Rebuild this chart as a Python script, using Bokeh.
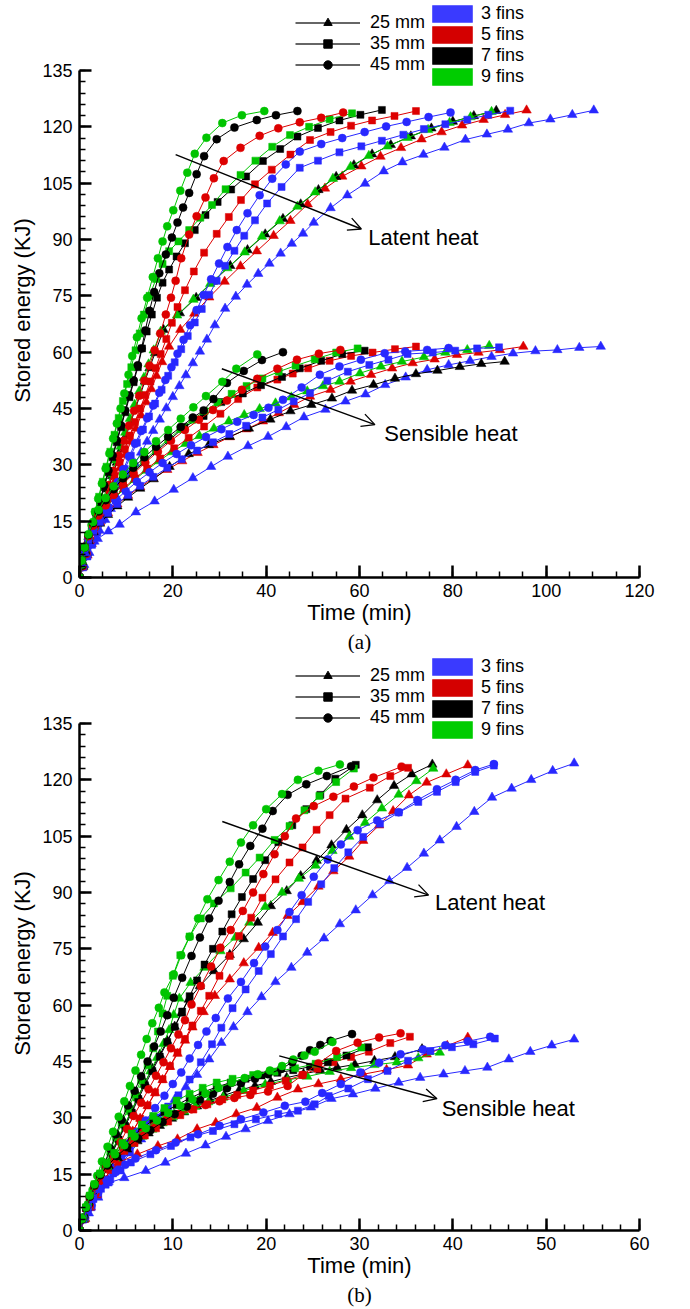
import sys
from bokeh.plotting import figure
from bokeh.models import (Range1d, FixedTicker, LinearAxis, Legend, LegendItem,
                          Arrow, OpenHead, Label, ColumnDataSource, Title)
from bokeh.layouts import column
from bokeh.embed import file_html
from bokeh.resources import INLINE

# ---------------- DATA : panel (a) latent heat ----------------
A_LAT_B_TRI_T = [0,1.0,2.1,3.2,4.3,5.5,6.7,8.0,9.3,10.6,11.9,13.2,14.5,15.8,17.2,18.6,20.0,21.4,22.8,24.3,25.8,27.3,29.0,31.2,33.5,35.9,38.3,40.7,43.1,45.5,47.9,50.2,53.8,57.4,61.2,65.2,69.2,73.7,78.2,82.7,87.3,91.8,96.3,100.9,105.6,110.2]
A_LAT_B_TRI_E = [0,3.4,6.6,9.6,12.5,15.4,18.3,21.3,24.3,27.3,30.3,33.3,36.2,39.1,42.1,45.1,48.1,51,53.9,57.1,60.2,63.4,67.2,71.6,74.8,78,80.9,83.6,86.3,88.9,91.6,94.5,98.4,101.8,104.9,108.2,110.6,112.6,114.5,116.6,118,119.3,121,122,123.2,124.4]
A_LAT_B_SQ_T = [0,0.8,1.7,2.7,3.8,4.9,6.0,7.2,8.4,9.7,11.0,12.3,13.6,14.9,16.2,17.6,19.0,20.4,21.8,23.2,24.7,26.2,27.8,29.4,31.2,33.2,35.3,37.6,40.2,43.3,47.2,51.1,55.7,60.4,64.8,69.4,73.8,78.4,83.1,87.6,92.3]
A_LAT_B_SQ_E = [0,2.7,5.6,8.7,12,15.3,18.6,22,25.4,28.9,32.4,35.9,39.4,42.9,46.3,50,53.7,57.3,60.8,64.3,67.9,71.5,75.3,79,83,87,91,95.1,99.6,104,109.1,111,113.2,114.8,116.3,117.9,119.4,120.7,121.9,123.2,124.3]
A_LAT_B_CIR_T = [0,0.8,1.7,2.7,3.7,4.8,5.9,7.0,8.2,9.4,10.6,11.9,13.2,14.5,15.8,17.1,18.4,19.7,21.0,22.3,23.7,25.1,26.6,28.2,29.9,31.7,33.7,36.0,38.6,41.3,44.2,47.2,51.8,56.3,61.1,65.7,70.1,74.8,79.5]
A_LAT_B_CIR_E = [0,2.8,5.8,9,12.2,15.5,18.8,22,25.4,28.8,32.2,35.6,39,42.4,45.8,49.2,52.6,56,59.6,63.3,67.2,71.2,75.2,79.4,83.6,88,92.5,97,101.8,106.2,110,113.4,115.4,117,118.6,120.1,121.3,122.6,123.8]
A_LAT_R_TRI_T = [0,0.8,1.7,2.6,3.6,4.6,5.6,6.6,7.7,8.8,9.9,11.0,12.1,13.2,14.3,15.4,16.5,17.7,19.2,21.6,24.6,27.8,31.1,34.5,38.0,41.6,45.2,48.9,52.6,56.3,60.4,64.5,68.9,73.3,77.6,82.0,86.6,91.2,95.8]
A_LAT_R_TRI_E = [0,2.8,5.9,9,12.3,15.6,18.9,22.2,25.7,29.2,32.7,36.2,39.7,43.2,46.7,50.2,53.7,57.4,61.5,66,70.3,74.6,78.8,82.9,86.9,91,95,99.4,103.6,106.8,109.5,112.1,114.4,116.7,118.6,120.4,121.9,123.2,124.4]
A_LAT_R_SQ_T = [0,0.7,1.5,2.4,3.3,4.3,5.3,6.4,7.5,8.6,9.7,10.8,11.9,13.0,14.1,15.2,16.3,17.4,18.6,19.8,21.0,22.6,24.5,26.7,29.4,32.0,34.6,37.6,41.2,45.2,49.4,53.8,58.2,62.7,67.5,72.1]
A_LAT_R_SQ_E = [0,2.9,6,9.4,12.8,16.3,19.8,23.4,27,30.6,34.2,37.8,41.4,45,48.6,52.2,55.8,59.5,63.5,67.8,72,76.5,81.5,86.5,91.5,96,100.5,104.7,108.6,112.6,116.5,118.6,120.3,121.7,122.9,124.2]
A_LAT_R_CIR_T = [0,0.7,1.5,2.4,3.3,4.3,5.3,6.3,7.3,8.4,9.5,10.6,11.7,12.8,13.9,15.0,16.1,17.3,18.5,19.6,20.6,21.8,23.5,25.1,27.0,28.8,30.9,34.5,38.6,42.6,47.2,51.8,56.5]
A_LAT_R_CIR_E = [0,3,6.3,9.8,13.3,17,20.8,24.6,28.4,32.4,36.4,40.4,44.4,48.4,52.4,56.4,60.5,65,70,74.5,79,85,91.3,96.2,101.2,106.3,110.9,114.4,117.6,119.6,121.2,122.4,123.8]
A_LAT_K_TRI_T = [0,0.8,1.6,2.5,3.4,4.3,5.2,6.1,7.0,8.0,9.0,10.0,11.0,12.0,13.0,14.0,15.0,16.2,18.0,21.5,25.0,28.6,32.3,36.0,39.8,43.6,47.4,51.2,55.0,58.8,62.7,66.7,71.0,75.4,80.0,84.5,89.3]
A_LAT_K_TRI_E = [0,3,6.5,9.9,13.3,16.7,20.1,23.5,27,30.6,34.2,37.8,41.4,45,48.6,52.2,55.8,59.8,66,70.4,74.5,78.8,83,87.2,91.4,95.5,99.4,103.2,106.7,109.8,112.7,115.2,117.5,119.6,121.4,122.9,124.3]
A_LAT_K_SQ_T = [0,0.6,1.3,2.0,2.8,3.6,4.4,5.3,6.2,7.1,8.0,8.9,9.8,10.7,11.6,12.5,13.4,14.4,15.5,16.6,17.8,19.2,20.8,22.6,24.7,27.0,29.6,32.5,35.7,39.3,43.0,46.7,51.1,55.7,60.2,64.8]
A_LAT_K_SQ_E = [0,3.2,6.4,9.7,13,16.5,20,24,28,32,36,40,44,48,52,56,61,65.5,70,74.5,78.5,82,85.5,89,92.5,96.5,100,103.3,106.8,110.9,114.1,117.4,119.7,121.7,123.2,124.5]
A_LAT_K_CIR_T = [0,0.6,1.3,2.0,2.8,3.6,4.4,5.3,6.2,7.1,8.0,8.9,9.8,10.7,11.6,12.5,13.3,14.1,15.0,16.0,17.1,18.5,19.8,21.0,22.2,23.5,25.1,26.7,29.4,33.2,38.0,42.1,46.7]
A_LAT_K_CIR_E = [0,3.2,6.5,10,13.5,17,20.5,24.5,28.5,32.5,36.5,40.5,44.5,48.5,52.5,56.5,61,65.8,71,76,81,86,90.5,94.5,98.5,102.4,107.4,112.2,116.7,119.8,121.8,123.1,124.2]
A_LAT_G_TRI_T = [0,0.7,1.5,2.3,3.2,4.1,5.0,5.9,6.8,7.8,8.8,9.8,10.8,11.8,12.8,13.8,14.8,15.9,17.4,20.9,24.4,28.0,31.7,35.4,39.1,42.9,46.7,50.5,54.3,58.1,62.0,66.0,70.3,74.7,79.3,83.8,88.3]
A_LAT_G_TRI_E = [0,3,6.5,10,13.5,17,20.5,24,27.5,31.2,34.9,38.6,42.3,46,49.6,53.2,56.8,60.5,65.5,69.8,74,78.2,82.4,86.6,90.8,94.9,98.8,102.6,106.2,109.4,112.3,114.8,117.1,119.2,121.1,122.6,124.0]
A_LAT_G_SQ_T = [0,0.6,1.2,1.9,2.6,3.4,4.2,5.0,5.8,6.6,7.5,8.4,9.3,10.2,11.1,12.0,12.9,13.8,15.0,16.4,17.8,19.2,21.2,23.5,25.9,28.4,31.3,34.5,37.7,41.3,45.1,49.2,53.6,58.4]
A_LAT_G_SQ_E = [0,3.3,6.6,10,13.5,17.5,21.5,25.5,29.5,33.5,38,42.5,47,51.5,56,60.5,65,70,75,79.5,83.5,86.9,89.5,92.5,95.8,99.2,103.4,107.2,111,114.7,117.8,120,122,123.6]
A_LAT_G_CIR_T = [0,0.6,1.2,1.9,2.6,3.3,4.0,4.8,5.6,6.4,7.2,8.0,8.8,9.6,10.5,11.3,12.3,13.3,14.5,15.7,16.8,17.8,18.8,20.1,21.6,23.1,24.7,27.2,30.6,34.8,39.6]
A_LAT_G_CIR_E = [0,3.5,7,10.5,14,17.5,21,25,29,33,37,41,45,49,54,59,64,69,74.5,80,85,89.5,93.5,97.8,103,107.8,112.8,117.1,121,123.1,124.2]

# ---------------- DATA : panel (a) sensible heat ----------------
A_SEN_B_TRI_T = [0,0.5,1.2,2.3,3.9,6.2,8.6,12.1,16.1,20.2,24.3,28.2,31.8,36.1,40.4,44.3,48.1,52.7,57,61.3,65.5,69.9,74.5,79.1,83.7,88.3,92.9,97.7,102.4,107.1,111.7]
A_SEN_B_TRI_E = [0,3.8,6.5,8.6,10.3,12.3,14.1,17.4,20.3,23.4,26.5,29.5,32.2,35,37.5,40.1,42.7,44.7,46.9,48.8,51.3,53.3,55.3,56.6,57.7,58.8,59.7,60.3,60.6,61.2,61.5]
A_SEN_B_SQ_T = [0,0.5,1.1,1.9,3.0,4.4,6.1,8.1,10.4,13,15.8,18.8,21.9,25.2,28.6,32.1,35.7,39.2,42.6,45.9,49.4,53.1,57.5,62.1,66.2,70.3,75.7,80.5,85.2,89.9]
A_SEN_B_SQ_E = [0,4.2,7.4,10,12.4,14.8,17.2,19.6,22,24.4,26.8,29.2,31.5,33.8,36,38.2,40.4,42.6,44.7,46.9,49.1,52.4,54.8,56.6,58,59.5,59.9,60.4,61,61.3]
A_SEN_B_CIR_T = [0,0.5,1.1,1.9,2.9,4.2,5.8,7.7,9.9,12.3,15,17.8,20.8,23.9,27.1,30.4,33.8,37.3,40.5,43.6,47.6,51.5,55.7,60.3,65.4,69.8,74.5,79.1]
A_SEN_B_CIR_E = [0,4.3,7.6,10.4,13,15.5,18,20.5,23,25.5,28,30.5,32.9,35.2,37.4,39.5,41.5,43.3,45.2,47.3,50.6,54,56.2,58,59.7,60.2,60.6,61.1]
A_SEN_R_TRI_T = [0,0.5,1.1,1.9,3.0,4.4,6.1,8.1,10.4,13.0,15.8,18.8,22.0,25.3,28.7,32.2,35.8,39.3,42.7,46.0,49.4,53.8,58.1,62.5,67.0,71.4,76.1,80.9,85.5,90.1,95.1]
A_SEN_R_TRI_E = [0,4.2,7.4,10,12.4,14.8,17.2,19.5,21.8,24.1,26.4,28.7,31,33.2,35.3,37.4,39.5,41.6,43.8,46,48.2,50,52.2,54,55.7,57.1,58.1,59.3,59.9,60.6,61.5]
A_SEN_R_SQ_T = [0,0.5,1.1,1.9,2.9,4.1,5.6,7.4,9.5,11.9,14.5,17.3,20.3,23.4,26.7,30.2,34.0,38.1,42.4,45.7,49.0,53.6,58.2,62.8,67.6,72.1]
A_SEN_R_SQ_E = [0,4.5,8,10.8,13.5,16,18.6,21.2,23.8,26.4,29,31.7,34.4,37.2,40.2,43.6,47.5,50.6,52.7,54.3,55.7,57.7,59,59.9,60.8,61.5]
A_SEN_R_CIR_T = [0,0.5,1.1,1.9,2.9,4.1,5.6,7.3,9.3,11.6,14.1,16.8,19.6,22.6,25.6,28.6,31.6,34.8,38.1,42.4,46.6,51.3,55.9]
A_SEN_R_CIR_E = [0,4.5,8,11,13.8,16.5,19.2,22,24.8,27.7,30.6,33.5,36.4,39.3,42,44.6,47.1,50,52.9,55.6,58,59.6,60.6]
A_SEN_K_TRI_T = [0,0.5,1.1,1.9,3.0,4.4,6.1,8.1,10.4,13.0,15.9,19.3,23.4,27.7,32.2,36.3,40.9,45.2,49.7,54.1,58.4,63.0,67.6,72.1,76.7,81.5,86.1,91.1]
A_SEN_K_TRI_E = [0,4.2,7.3,9.8,12.1,14.4,16.7,19,21.3,23.7,26.2,29.5,32.9,35.3,37.5,39.7,42.1,44.3,46,47.7,49.8,51.3,53,54.2,55.1,56.1,56.9,57.5]
A_SEN_K_SQ_T = [0,0.5,1.1,1.9,2.9,4.1,5.6,7.3,9.3,11.5,13.9,16.5,19.3,22.5,26.6,30.4,35.0,38.9,43.4,47.2,51.8,56.3,61.1]
A_SEN_K_SQ_E = [0,4.5,8,11,14,16.9,19.7,22.4,25.2,28,30.8,33.7,36.6,40.1,43,46.7,49,51.2,53.4,55.7,57.7,59.5,60.4]
A_SEN_K_CIR_T = [0,0.5,1.1,1.9,2.9,4.1,5.6,7.3,9.3,11.5,13.9,16.4,19.0,21.7,24.3,26.6,28.7,31.6,35.2,39.1,43.6]
A_SEN_K_CIR_E = [0,4.5,8,11.3,14.5,17.6,20.6,23.5,26.4,29.2,32,34.8,37.5,40.1,42.6,44.5,47.5,51.8,55,57.9,60]
A_SEN_G_TRI_T = [0,0.5,1.1,1.9,2.9,4.1,5.6,7.4,9.5,11.8,14.3,17.0,19.8,22.7,25.7,28.8,32.0,35.3,38.6,42.0,45.4,48.8,52.2,55.7,60.1,64.6,69.1,73.8,78.4,83.1,87.8]
A_SEN_G_TRI_E = [0,4.4,7.8,10.8,13.5,16,18.5,21,23.5,26,28.5,31,33.4,35.6,37.7,39.7,41.6,43.3,44.9,46.4,48,49.6,51,52.2,54.4,56.2,57.5,58.7,59.9,60.6,61.7]
A_SEN_G_SQ_T = [0,0.5,1.1,1.9,2.9,4.1,5.6,7.3,9.3,11.5,13.9,16.4,19.0,21.6,24.2,26.8,29.6,32.6,35.8,39.2,42.7,46.3,50.4,55.0,59.6]
A_SEN_G_SQ_E = [0,4.5,8,11.2,14.2,17.2,20,22.8,25.6,28.4,31.2,34,36.8,39.5,42,44.3,46.6,48.9,51,53,54.8,56.4,58.1,59.9,61.0]
A_SEN_G_CIR_T = [0,0.5,1.1,1.9,2.9,4.1,5.6,7.3,9.3,11.5,13.9,16.4,19.0,21.7,24.4,27.1,30.6,33.6,38.1]
A_SEN_G_CIR_E = [0,4.5,8,11.5,14.8,18,21.2,24.3,27.4,30.5,33.4,36.3,39.3,42.3,45.3,48.3,52.1,55.6,59.4]

# ---------------- DATA : panel (b) latent heat ----------------
B_LAT_B_TRI_T = [0,1.0,2.0,3.1,4.2,5.4,6.6,7.8,9.0,10.2,11.4,12.6,13.9,15.2,16.5,18.0,19.5,21.0,22.7,24.4,26.2,27.9,29.6,31.4,33.2,35.1,36.9,38.6,40.4,42.3,44.2,46.3,48.4,50.7,53.0]
B_LAT_B_TRI_E = [0,4.6,8.8,12.9,16.8,20.6,24.3,28,31.5,34.9,38.2,41.5,45.6,50,54.2,58.2,62.2,66.2,70,74,77.8,81.6,85.3,89.3,93.1,96.6,100.4,103.9,107.5,111.5,115.3,117.7,120,122.4,124.4]
B_LAT_B_SQ_T = [0,0.6,1.3,2.0,2.8,3.6,4.5,5.4,6.4,7.4,8.4,9.5,10.6,11.8,13.0,14.2,15.2,16.4,17.8,19.2,20.5,21.8,23.2,24.5,25.9,27.3,28.8,30.4,32.2,34.2,36.3,38.3,40.3,42.4,44.4]
B_LAT_B_SQ_E = [0,3.1,6.2,9.2,12.2,15.2,18.3,21.4,24.5,27.3,30.1,33,36,40.2,44.8,49.6,54,59.2,64.2,69.1,73.6,78.3,82.9,87.5,92.2,96.5,100.7,104.8,108.3,111.3,114.1,116.8,119.4,122.1,123.8]
B_LAT_B_CIR_T = [0,0.6,1.3,2.0,2.8,3.6,4.5,5.3,6.2,7.1,8.1,9.1,10.0,10.9,11.8,12.7,13.6,14.6,15.9,17.3,18.7,19.9,21.2,22.5,23.8,25.1,26.6,28.0,29.8,31.9,34.2,36.2,38.3,40.3,42.4,44.4]
B_LAT_B_CIR_E = [0,3.3,6.7,10,13.4,16.7,20,23.2,26.3,29.3,32.6,35.9,39,42.1,45.8,49.4,53,56.6,61.8,66.2,71.2,75.6,80,84.8,89.3,94.2,98.8,102.8,106.6,109.2,111.4,114.6,117.5,120,122.6,124.2]
B_LAT_R_TRI_T = [0,0.6,1.2,1.9,2.6,3.3,4.1,4.9,5.7,6.5,7.3,8.1,8.9,9.7,10.5,11.3,12.1,13.3,14.5,16.1,17.6,19.2,20.7,22.3,23.9,25.6,27.2,28.9,30.4,32.1,33.6,35.3,37.2,39.3,41.6]
B_LAT_R_TRI_E = [0,3.1,6.3,9.6,12.9,16.2,19.6,23,26.4,29.8,33.2,36.6,40.1,43.6,47.1,50.6,54.1,58.2,62.5,66.9,71.2,75.3,79.3,83.8,87.5,91.6,95.7,99.6,103.8,107.9,111.7,115.9,119.3,121.5,123.9]
B_LAT_R_SQ_T = [0,0.6,1.2,1.9,2.6,3.3,4.1,4.9,5.7,6.5,7.3,8.1,8.9,9.7,10.5,11.3,12.1,13.0,13.9,15.0,16.1,17.1,18.4,19.6,21.0,22.5,23.9,25.4,26.8,28.5,31.1,33.3,35.2]
B_LAT_R_SQ_E = [0,3.1,6.3,9.6,12.9,16.2,19.6,23,26.4,29.8,33.3,36.8,40.3,43.8,47.4,51,54.6,58.5,62.5,67.8,73.1,78.4,83.3,88.6,93.5,98,102,106.7,110.6,115,117.9,121,123.2]
B_LAT_R_CIR_T = [0,0.5,1.1,1.7,2.3,3.0,3.7,4.4,5.1,5.8,6.6,7.4,8.2,9.0,9.8,10.6,11.3,12.0,13.0,14.1,15.1,16.2,17.5,18.6,19.7,20.9,22.0,23.2,25.1,27.2,29.4,31.5,34.5]
B_LAT_R_CIR_E = [0,3.2,6.5,9.8,13.2,16.6,20,23.5,27,30.5,34,37.6,41.2,44.8,48.5,52.2,56,60.2,65.1,70.3,75.3,80,85.1,90,94.9,100.2,105,109.7,113,115.5,118.2,120.6,123.5]
B_LAT_K_TRI_T = [0,0.5,1.0,1.6,2.2,2.8,3.5,4.2,4.9,5.6,6.3,7.0,7.8,8.6,9.4,10.2,10.9,11.7,12.9,14.4,16.1,17.6,19.1,20.5,22.2,23.7,25.4,27.0,28.6,30.3,31.9,33.7,35.6,37.8]
B_LAT_K_TRI_E = [0,3.4,6.8,10.3,13.8,17.4,21,24.6,28.3,32,35.7,39.4,43.1,46.8,50.5,54.3,57.8,61.5,65.1,69.1,73.4,77.6,82,86.4,90.4,94.4,98.5,102.6,106.7,110.6,114.6,118.4,121.5,124.1]
B_LAT_K_SQ_T = [0,0.5,1.0,1.6,2.2,2.8,3.5,4.2,4.9,5.6,6.3,7.0,7.8,8.6,9.4,10.2,11.0,11.8,12.6,13.4,14.3,15.3,16.3,17.4,18.6,19.9,21.3,22.8,24.3,25.8,27.4,29.6]
B_LAT_K_SQ_E = [0,3.3,6.6,10,13.5,17,20.6,24.2,27.8,31.4,35,38.7,42.5,46.3,50.2,54.2,58.3,62.4,66.6,70.8,75,79.6,84.2,88.8,93.6,98.6,103.4,107.9,112.2,116,120.3,124]
B_LAT_K_CIR_T = [0,0.5,1.0,1.5,2.1,2.7,3.3,3.9,4.5,5.2,5.9,6.6,7.3,8.0,8.7,9.4,10.1,11.0,12.0,12.9,13.9,14.9,16.1,17.1,18.3,19.6,20.7,22.3,24.3,26.5,29.1]
B_LAT_K_CIR_E = [0,3.5,7,10.6,14.3,18,21.8,25.6,29.4,33.3,37.2,41.1,45,49,53,57.3,62,67.3,73.1,78,83.1,87.8,92.8,97.5,102.4,107,111.7,116,118.8,121,123.6]
B_LAT_G_TRI_T = [0,0.5,1.0,1.6,2.2,2.8,3.4,4.1,4.8,5.5,6.2,6.9,7.6,8.3,9.0,9.6,10.1,10.7,11.9,13.4,15.1,16.7,18.2,19.9,21.7,23.5,25.3,27.1,28.9,30.6,32.4,34.2,36.1,37.9]
B_LAT_G_TRI_E = [0,3.4,6.8,10.3,13.8,17.3,20.8,24.4,28,31.6,35.2,38.8,42.4,46,49.7,53.4,57.4,61.8,66,70,74.4,78,82,86.2,90,93.7,97.2,101.1,104.9,108.6,112.4,116.1,119.7,123]
B_LAT_G_SQ_T = [0,0.5,1.0,1.5,2.1,2.7,3.3,3.9,4.5,5.2,5.9,6.6,7.3,7.9,8.4,8.9,9.4,10.0,10.8,11.8,13.0,14.4,16.2,17.8,19.3,20.9,22.5,24.1,25.7,27.5,29.4]
B_LAT_G_SQ_E = [0,3.4,6.8,10.3,13.9,17.5,21.2,24.9,28.6,32.4,36.2,40,44,48.5,53,57.8,62.5,67.8,73.3,78.3,83.1,87.1,91.1,95.3,99.3,104,107.7,111.9,115.7,119.4,123]
B_LAT_G_CIR_T = [0,0.4,0.9,1.4,1.9,2.4,3.0,3.6,4.2,4.8,5.4,6.0,6.6,7.2,7.8,8.5,9.1,10.1,10.9,11.8,12.7,13.7,14.9,16.1,17.3,18.6,20.0,21.7,23.4,25.6,27.9]
B_LAT_G_CIR_E = [0,3.5,7,10.8,14.6,18.4,22.3,26.3,30.3,34.4,38.5,42.6,46.8,51,55.2,59.3,63.4,68.2,73.3,78.2,83.1,88.2,93.3,98.2,103.3,107.9,112.2,116.2,120,122.4,124.1]

# ---------------- DATA : panel (b) sensible heat ----------------
B_SEN_B_TRI_T = [0,0.4,0.8,1.3,2.0,3.0,4.8,7.1,9.2,11.4,13.5,15.7,17.8,20.2,22.5,24.8,27.0,29.3,31.7,34.2,36.5,39.0,41.3,43.7,46.0,48.3,50.6,53.0]
B_SEN_B_TRI_E = [0,3.2,6.2,8.9,11,12.6,14,15.9,18.1,20.5,22.7,25,27,29.2,31,32.8,35.1,36.3,37.8,39.4,40.7,41.6,42.5,43.4,45.6,47.6,49.3,50.9]
B_SEN_B_SQ_T = [0,0.4,0.9,1.5,2.3,3.3,4.4,5.5,7.6,9.8,11.9,14.3,16.6,18.9,21.3,23.4,25.2,26.7,28.8,30.9,33.0,35.2,37.6,39.9,42.2,44.5]
B_SEN_B_SQ_E = [0,2.9,5.7,8.4,11.1,13.6,16,18.1,20.3,22.5,24.8,26.5,28.3,29.6,31,31.9,33.6,35.8,37.8,40.3,42.5,45.2,47.8,48.8,49.6,51.1]
B_SEN_B_CIR_T = [0,0.4,0.8,1.4,2.1,2.9,3.9,4.9,6.0,8.2,10.3,12.7,15.0,17.3,19.7,22.0,24.2,26.0,28.0,30.1,32.1,34.4,36.8,39.2,41.6,44.0]
B_SEN_B_CIR_E = [0,3,5.8,8.6,11.1,13.4,15.6,17.5,19.2,21.4,23.4,25.6,27.9,29.6,31.4,33.2,34.3,36.6,39,42.1,44.7,46.9,48.2,49.3,50.4,51.6]
B_SEN_R_TRI_T = [0,0.4,0.8,1.3,1.9,2.6,3.4,4.2,6.2,8.4,10.5,12.6,14.6,16.8,19.0,21.2,23.4,25.6,28.0,30.4,32.9,35.2,37.2,39.4,41.6]
B_SEN_R_TRI_E = [0,3,5.9,8.7,11.3,13.8,16,18.1,20.3,22.5,24.3,27,28.7,31,32.7,35.4,37.6,39,40.3,41.6,42.8,44,46.9,49.2,51.4]
B_SEN_R_SQ_T = [0,0.3,0.7,1.1,1.6,2.2,2.9,3.8,4.8,5.9,7.0,8.2,9.5,10.8,12.2,13.7,15.3,16.9,18.6,20.4,22.1,23.9,25.5,27.2,29.1,31.0,33.3,35.4]
B_SEN_R_SQ_E = [0,3,6,8.9,11.7,14.3,16.7,19,21.2,23.3,25.3,27.2,29,30.7,32.2,33.6,34.9,36.1,37.3,38.6,39.9,41.4,43.1,44.8,46.2,47.6,49.9,51.6]
B_SEN_R_CIR_T = [0,0.3,0.7,1.1,1.6,2.2,2.9,3.7,4.7,5.7,6.8,8.0,9.3,10.6,12.0,13.5,15.0,16.6,18.3,20.2,22.3,23.9,25.6,27.5,29.8,32.1,34.4]
B_SEN_R_CIR_E = [0,3,6,9,11.8,14.5,17,19.4,21.7,23.9,26,27.8,29.5,31,32.3,33.4,34.4,35.3,36.1,37,38.5,41.4,44.5,47.8,50,51.4,52.5]
B_SEN_K_TRI_T = [0,0.4,0.8,1.2,1.7,2.4,3.2,4.1,5.1,6.2,7.4,8.6,9.9,11.2,12.6,14.0,15.5,17.1,18.8,20.5,22.2,24.0,25.8,27.6,29.5,31.6,33.8,36.7]
B_SEN_K_TRI_E = [0,3,6,9,11.8,14.4,16.9,19.3,21.6,23.8,25.9,27.9,29.8,31.5,33.1,34.6,36,37.3,38.5,39.6,40.7,41.7,42.6,43.4,44.2,45.2,46.2,48.3]
B_SEN_K_SQ_T = [0,0.3,0.7,1.1,1.6,2.2,2.9,3.7,4.6,5.6,6.7,7.9,9.1,10.4,11.8,13.2,14.7,16.2,17.8,19.5,21.2,22.9,24.7,26.6,28.6,30.9]
B_SEN_K_SQ_E = [0,3,6,9,11.9,14.7,17.4,20,22.5,24.9,27.2,29.4,31.5,33.4,35.2,36.8,38.2,39.4,40.4,41.3,42,42.7,43.6,44.8,46.6,48.8]
B_SEN_K_CIR_T = [0,0.3,0.7,1.1,1.6,2.2,3.0,4.0,5.1,6.3,7.6,8.9,10.2,11.5,12.9,14.3,15.8,17.3,18.8,20.2,21.6,22.8,23.8,24.7,25.8,26.9,29.2]
B_SEN_K_CIR_E = [0,3,6,9,12,14.7,17.3,19.8,22.2,24.5,26.7,28.9,31,33,34.8,36.4,37.9,39.2,40.4,41.6,43,44.8,46.5,48,49.4,50.5,52.3]
B_SEN_G_TRI_T = [0,0.4,0.8,1.2,1.7,2.3,3.0,3.8,4.7,5.7,6.7,7.8,8.9,10.0,11.2,12.4,13.8,15.4,17.6,19.9,22.3,24.4,26.8,29.1,31.6,34.0,36.3,38.6]
B_SEN_G_TRI_E = [0,3.1,6.2,9.2,12,14.6,17,19.2,21.2,23.1,25,26.9,28.6,30.2,31.7,33,34.2,35.4,37.2,38.9,40.1,41,42.3,43.3,44.1,44.8,45.9,47.4]
B_SEN_G_SQ_T = [0,0.3,0.7,1.1,1.6,2.2,2.9,3.7,4.6,5.6,6.7,7.9,9.1,10.4,11.8,13.2,14.7,16.4,18.6,20.9,23.1,25.3,27.6,30.2]
B_SEN_G_SQ_E = [0,3.1,6.2,9.3,12.3,15.2,18,20.7,23.3,25.8,28.2,30.5,32.6,34.6,36.4,38,39.4,40.4,41.4,42.3,43.2,44.4,46.2,48.7]
B_SEN_G_CIR_T = [0,0.3,0.7,1.1,1.6,2.2,2.9,3.8,4.8,5.9,7.1,8.3,9.5,10.8,12.1,13.5,14.9,16.3,17.7,19.1,20.4,21.7,22.9,24.1,25.2,27.1]
B_SEN_G_CIR_E = [0,3.1,6.2,9.3,12.3,15.1,17.8,20.3,22.7,25,27.2,29.3,31.3,33.2,34.9,36.5,38,39.4,40.6,41.6,42.6,43.8,45.5,46.6,47.6,50.2]

# ---------------- legend / axis text ----------------
SIZE_LABELS = ["25 mm", "35 mm", "45 mm"]
FIN_LABELS = ["3 fins", "5 fins", "7 fins", "9 fins"]
Y_TICKS = [0, 15, 30, 45, 60, 75, 90, 105, 120, 135]
Y_LABEL = "Stored energy (KJ)"
X_LABEL = "Time (min)"

COLORS = {"B": "#2828ff", "R": "#dd0000", "K": "#000000", "G": "#00c400"}
BOX_COLORS = {"B": "#3a3aff", "R": "#d40000", "K": "#000000", "G": "#00cc00"}
MARKERS = {"TRI": "triangle", "SQ": "square", "CIR": "circle"}
MSIZE = {"TRI": 9.5, "SQ": 7, "CIR": 8}
FONT = "Liberation Sans"

FIG_W = 690
FRAME_L = 79
FRAME_W = 560
FRAME_H = 577          # frame from figure top (y=0) to x-axis
PX_PER_UNIT = 507.0 / 135.0
Y_TOP = FRAME_H / PX_PER_UNIT
OFF = -1.0e6           # legend-only renderers sit far outside the view
NBSP = "\u00a0"


def series_for(prefix):
    out = []
    for kind in ["LAT", "SEN"]:
        for m in ["TRI", "SQ", "CIR"]:
            for c in ["B", "R", "K", "G"]:
                t = globals()[f"{prefix}_{kind}_{c}_{m}_T"]
                e = globals()[f"{prefix}_{kind}_{c}_{m}_E"]
                if len(t) != len(e):
                    print("length mismatch", prefix, kind, c, m, len(t), len(e), file=sys.stderr)
                n = min(len(t), len(e))
                out.append((c, m, t[:n], e[:n]))
    return out


def make_panel(prefix, xmax, xmajor, xminor, height, tag, arrows, texts):
    p = figure(width=FIG_W, height=height, title=None,
               x_range=Range1d(0, xmax), y_range=Range1d(0, Y_TOP),
               output_backend="svg", toolbar_location=None,
               x_axis_type=None, y_axis_type=None,
               min_border_left=FRAME_L, min_border_right=FIG_W - FRAME_L - FRAME_W,
               min_border_top=0, min_border_bottom=height - FRAME_H)
    p.outline_line_color = None
    p.grid.visible = False
    p.background_fill_color = "white"
    p.border_fill_color = "white"

    # curves
    for c, m, t, e in series_for(prefix):
        src = ColumnDataSource(dict(t=t, e=e))
        p.line("t", "e", source=src, line_color=COLORS[c], line_width=1)
        p.scatter("t", "e", source=src, marker=MARKERS[m], size=MSIZE[m],
                  fill_color=COLORS[c], line_color=COLORS[c], line_width=0.5)

    # axes
    yax = LinearAxis(bounds=(0, 135),
                     ticker=FixedTicker(ticks=Y_TICKS, minor_ticks=list(range(0, 136, 3))))
    xax = LinearAxis(bounds=(0, xmax),
                     ticker=FixedTicker(ticks=xmajor, minor_ticks=xminor))
    for ax in (xax, yax):
        ax.axis_line_width = 2.5
        ax.axis_line_color = "black"
        ax.major_tick_in = 12
        ax.major_tick_out = 0
        ax.minor_tick_in = 6
        ax.minor_tick_out = 0
        ax.major_tick_line_width = 2.5
        ax.minor_tick_line_width = 1.5
        ax.major_label_text_font = FONT
        ax.major_label_text_font_size = "18px"
        ax.major_label_text_color = "black"
        ax.axis_label_text_font = FONT
        ax.axis_label_text_font_size = "22px"
        ax.axis_label_text_font_style = "normal"
        ax.axis_label_text_color = "black"
        ax.major_label_standoff = 7
    # trailing no-break spaces push the rotated label down to the centre of the 0-135 axis
    yax.axis_label = Y_LABEL + NBSP * 7
    yax.axis_label_standoff = 4
    xax.axis_label = X_LABEL
    xax.axis_label_standoff = 0
    xax.major_label_standoff = 6
    p.add_layout(yax, "left")
    p.add_layout(xax, "below")
    p.add_layout(Title(text=tag, align="center", text_font="Liberation Serif",
                       text_font_size="21px", text_font_style="normal",
                       text_color="black", standoff=0), "below")

    # legend of fin lengths (line + marker)
    items1 = []
    for lbl, m in zip(SIZE_LABELS, ["TRI", "SQ", "CIR"]):
        src = ColumnDataSource(dict(t=[OFF, OFF * 0.99], e=[OFF, OFF]))
        r1 = p.line("t", "e", source=src, line_color="#333333", line_width=1.5)
        r2 = p.scatter("t", "e", source=src, marker=MARKERS[m], size=7,
                       fill_color="black", line_color="black")
        items1.append(LegendItem(label=lbl, renderers=[r1, r2]))
    leg1 = Legend(items=items1, location=(216, FRAME_H - 75), orientation="vertical",
                  glyph_width=65, glyph_height=21, label_height=21, label_width=40,
                  label_standoff=10, spacing=0, padding=0, margin=0,
                  border_line_color=None, background_fill_alpha=0,
                  label_text_font=FONT, label_text_font_size="18px",
                  label_text_color="black")
    p.add_layout(leg1)

    # legend of fin numbers (colour boxes)
    items2 = []
    for lbl, c in zip(FIN_LABELS, ["B", "R", "K", "G"]):
        src = ColumnDataSource(dict(l=[OFF], r=[OFF * 0.99], b=[OFF], t=[OFF * 0.99]))
        r = p.quad(left="l", right="r", bottom="b", top="t", source=src,
                   fill_color=BOX_COLORS[c], line_color=BOX_COLORS[c], line_alpha=0.6)
        items2.append(LegendItem(label=lbl, renderers=[r]))
    leg2 = Legend(items=items2, location=(348, FRAME_H - 87), orientation="vertical",
                  glyph_width=50, glyph_height=21, label_height=21, label_width=40,
                  label_standoff=4, spacing=0, padding=0, margin=0,
                  border_line_color=None, background_fill_alpha=0,
                  label_text_font=FONT, label_text_font_size="18px",
                  label_text_color="black")
    p.add_layout(leg2)

    # annotation arrows and texts
    for (x0, y0, x1, y1) in arrows:
        p.add_layout(Arrow(end=OpenHead(size=13, line_width=1.3, line_color="black"),
                           x_start=x0, y_start=y0, x_end=x1, y_end=y1,
                           line_width=1.5, line_color="black"))
    for (x, y, txt) in texts:
        p.add_layout(Label(x=x, y=y, text=txt, text_font=FONT, text_font_size="22px",
                           text_baseline="middle", text_align="left", text_color="black"))
    return p


pa = make_panel("A", 120, list(range(0, 121, 20)), list(range(0, 121, 5)), 653, "(a)",
                arrows=[(20.6, 112.6, 60.4, 92.8), (30.5, 55.6, 63.3, 40.7)],
                texts=[(61.9, 90.5, "Latent heat"), (65.3, 38.4, "Sensible heat")])
pb = make_panel("B", 60, list(range(0, 61, 10)), list(range(0, 61, 2)), 656, "(b)",
                arrows=[(15.3, 108.9, 37.4, 89.3), (21.4, 46.5, 38.3, 35.1)],
                texts=[(38.1, 87.3, "Latent heat"), (38.8, 32.5, "Sensible heat")])

layout = column(pa, pb, spacing=0)
open("out.html", "w").write(file_html(layout, INLINE))
